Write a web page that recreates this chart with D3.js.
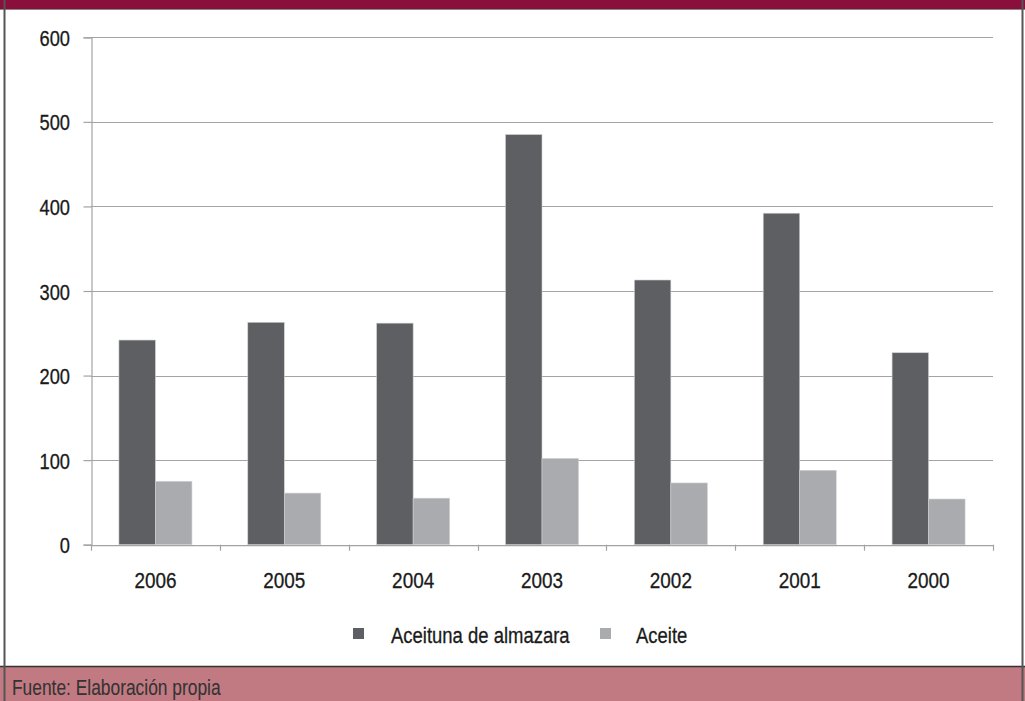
<!DOCTYPE html>
<html><head><meta charset="utf-8">
<script src="https://cdn.jsdelivr.net/npm/d3@7"></script>
<style>body{margin:0;background:#fff}svg{display:block}text{font-family:"Liberation Sans","Arial",sans-serif}</style>
</head><body><svg id="c" width="1025" height="701"></svg>
<script>
const categories = ["2006","2005","2004","2003","2002","2001","2000"];
const seriesNames = ["Aceituna de almazara","Aceite"];
const aceituna = [242,263,262,485,313,392,227];
const aceite = [75,61,55,102,73,88,54];
const yTicks = [0,100,200,300,400,500,600];
const colors = ["#5e5f63","#a9abae"];
const footerText = "Fuente: Elaboración propia";

const svg = d3.select("#c");
function label(parent, x, y, txt, opts){
  const o = Object.assign({size:22, sx:0.84, anchor:"start", fill:"#1a1a1a", sw:0.3}, opts||{});
  return parent.append("text")
    .attr("transform",`translate(${x},${y}) scale(${o.sx},1)`)
    .attr("text-anchor",o.anchor).attr("font-size",o.size)
    .attr("fill",o.fill).attr("stroke",o.fill).attr("stroke-width",o.sw)
    .text(txt);
}
// frame
svg.append("rect").attr("x",0).attr("y",0).attr("width",1025).attr("height",9).attr("fill","#8a0f3b");
svg.append("rect").attr("x",0).attr("y",667).attr("width",1025).attr("height",34).attr("fill","#c27a82");
svg.append("line").attr("x1",0).attr("x2",1025).attr("y1",666.5).attr("y2",666.5).attr("stroke","#333").attr("stroke-width",1.5);
svg.append("line").attr("x1",0).attr("x2",1025).attr("y1",9.5).attr("y2",9.5).attr("stroke","#888").attr("stroke-width",1);
svg.append("line").attr("x1",4.5).attr("x2",4.5).attr("y1",0).attr("y2",701).attr("stroke","#555").attr("stroke-width",2);
svg.append("line").attr("x1",1022.5).attr("x2",1022.5).attr("y1",0).attr("y2",701).attr("stroke","#555").attr("stroke-width",2);
label(svg, 12, 694.5, footerText, {size:22, sx:0.79, fill:"#333", sw:0.1});

const x0 = 91, x1 = 993, yTop = 37.3, yBot = 544.7;
const x = d3.scaleBand().domain(categories).range([x0,x1]).paddingInner(0).paddingOuter(0);
const y = d3.scaleLinear().domain([0,600]).range([yBot,yTop]);
const xs = d3.scaleBand().domain(seriesNames).range([0,73]);

// grid
svg.append("g").selectAll("line").data(yTicks.filter(d=>d>0)).join("line")
  .attr("x1",x0).attr("x2",x1).attr("y1",d=>Math.round(y(d))+0.5).attr("y2",d=>Math.round(y(d))+0.5)
  .attr("stroke","#a3a3a3").attr("stroke-width",1.2);

// y axis
const ya = svg.append("g").attr("transform",`translate(${x0+0.5},0)`)
  .call(d3.axisLeft(y).tickValues(yTicks).tickSize(8).tickFormat(""));
ya.select(".domain").attr("stroke","#a3a3a3").attr("stroke-width",1.2);
ya.selectAll(".tick line").attr("stroke","#a3a3a3").attr("stroke-width",1.2);
const ylab = svg.append("g");
yTicks.forEach(t=>label(ylab, 70, y(t)+8.5, String(t), {anchor:"end", sx:0.83}));

// bars
const data = categories.map((c,i)=>({c, vals:[aceituna[i],aceite[i]]}));
const g = svg.append("g").selectAll("g").data(data).join("g")
  .attr("transform",d=>`translate(${x(d.c)+x.bandwidth()/2-36.5},0)`);
g.selectAll("rect").data(d=>d.vals.map((v,j)=>({v,j}))).join("rect")
  .attr("x",d=>xs(seriesNames[d.j])).attr("width",xs.bandwidth())
  .attr("y",d=>y(d.v)).attr("height",d=>yBot-y(d.v))
  .attr("fill",d=>colors[d.j]).attr("stroke","#d0d0d0").attr("stroke-width",0.6);

// x axis
const xa = svg.append("g").attr("transform",`translate(0,${yBot+0.5})`)
  .call(d3.axisBottom(x).tickSize(0).tickFormat(""));
xa.select(".domain").attr("stroke","#a3a3a3").attr("stroke-width",1.2);
const bounds = categories.map(c=>x(c)).concat([x1]);
svg.append("g").selectAll("line").data(bounds).join("line")
  .attr("x1",d=>Math.round(d)+0.5).attr("x2",d=>Math.round(d)+0.5).attr("y1",yBot).attr("y2",yBot+6)
  .attr("stroke","#a3a3a3").attr("stroke-width",1.2);
const xlab = svg.append("g");
categories.forEach(c=>label(xlab, x(c)+x.bandwidth()/2, 587.5, c, {anchor:"middle", sx:0.86}));

// legend
const legendPos = [{sx:353, tx:391},{sx:600, tx:636}];
const lg = svg.append("g");
seriesNames.forEach((n,i)=>{
  lg.append("rect").attr("x",legendPos[i].sx).attr("y",628).attr("width",11).attr("height",11).attr("fill",colors[i]);
  label(lg, legendPos[i].tx, 643, n, {sx:0.84});
});
</script></body></html>
